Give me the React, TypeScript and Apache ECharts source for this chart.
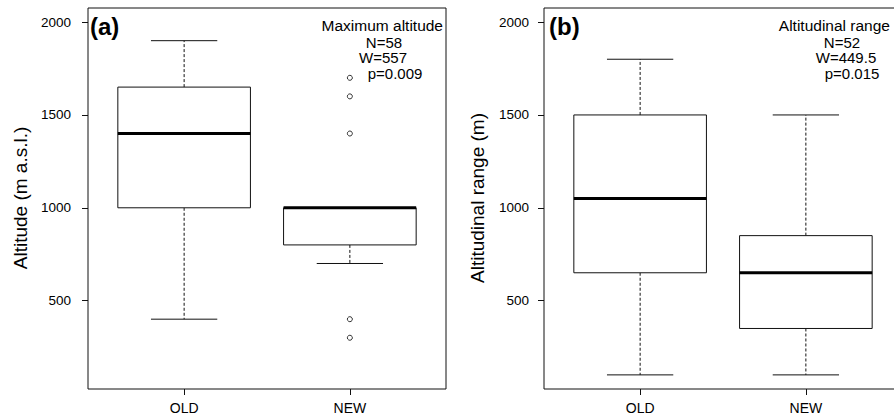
import React, { useEffect, useRef } from "react";
import * as echarts from "echarts";

const categories = ["OLD", "NEW"];
// [min, Q1, median, Q3, max]
const maxAltOld = [400, 1000, 1400, 1650, 1900];
const maxAltNew = [700, 800, 1000, 1000, 1000];
const maxAltNewOutliers = [1700, 1600, 1400, 400, 300];
const rangeOld = [100, 650, 1050, 1500, 1800];
const rangeNew = [100, 350, 650, 850, 1500];
const rangeNewOutliers: number[] = [];
const yTicks = [500, 1000, 1500, 2000];
const statsA = ["N=58", "W=557", "p=0.009"];
const statsB = ["N=52", "W=449.5", "p=0.015"];

const FONT = "'Liberation Sans', Arial, Helvetica, sans-serif";

function renderBox(params: any, api: any) {
  const x = api.value(0);
  const mn = api.value(1);
  const q1 = api.value(2);
  const md = api.value(3);
  const q3 = api.value(4);
  const mx = api.value(5);
  const tl = api.coord([x - 0.4, q3]);
  const br = api.coord([x + 0.4, q1]);
  const c = (v: number, dx = 0) => api.coord([x + dx, v]);
  const stroke = "#111";
  const dashed = { stroke, lineWidth: 1, lineDash: [3, 2], fill: null };
  const solid = { stroke, lineWidth: 1, fill: null };
  return {
    type: "group",
    children: [
      { type: "line", shape: { x1: c(q3)[0], y1: c(q3)[1], x2: c(mx)[0], y2: c(mx)[1] }, style: dashed },
      { type: "line", shape: { x1: c(q1)[0], y1: c(q1)[1], x2: c(mn)[0], y2: c(mn)[1] }, style: dashed },
      { type: "line", shape: { x1: c(mx, -0.2)[0], y1: c(mx)[1], x2: c(mx, 0.2)[0], y2: c(mx)[1] }, style: solid },
      { type: "line", shape: { x1: c(mn, -0.2)[0], y1: c(mn)[1], x2: c(mn, 0.2)[0], y2: c(mn)[1] }, style: solid },
      {
        type: "rect",
        shape: { x: tl[0], y: tl[1], width: br[0] - tl[0], height: br[1] - tl[1] },
        style: { fill: "#fff", stroke, lineWidth: 1 },
      },
      { type: "line", shape: { x1: c(md, -0.4)[0], y1: c(md)[1], x2: c(md, 0.4)[0], y2: c(md)[1] }, style: { stroke: "#000", lineWidth: 3 } },
    ],
  };
}

function xAxis(gridIndex: number) {
  return {
    type: "value",
    gridIndex,
    min: 0.42,
    max: 2.58,
    splitLine: { show: false },
    axisLine: { show: false },
    axisTick: { show: true, customValues: [1, 2], length: 6, lineStyle: { color: "#111", width: 1 } },
    axisLabel: {
      customValues: [1, 2],
      formatter: (v: number) => categories[Math.round(v) - 1],
      fontSize: 14,
      color: "#000",
      margin: 12,
      fontFamily: FONT,
    },
  };
}

function yAxis(gridIndex: number, margin: number) {
  return {
    type: "value",
    gridIndex,
    min: 24,
    max: 2076,
    splitLine: { show: false },
    axisLine: { show: false },
    axisTick: { show: true, customValues: yTicks, length: 6, lineStyle: { color: "#111", width: 1 } },
    axisLabel: {
      customValues: yTicks,
      formatter: (v: number) => String(v),
      fontSize: 13.5,
      color: "#000",
      margin,
      fontFamily: FONT,
    },
  };
}

function txt(text: string, x: number, y: number, align: string, size: number, bold = false, rotation = 0) {
  return {
    type: "text",
    x,
    y,
    rotation,
    style: {
      text,
      align,
      verticalAlign: "middle",
      fontSize: size,
      lineHeight: size,
      fontWeight: bold ? "bold" : "normal",
      fontFamily: FONT,
      fill: "#000",
    },
  };
}

export default function App() {
  const ref = useRef<HTMLDivElement>(null);
  useEffect(() => {
    if (!ref.current) return;
    const chart = echarts.init(ref.current, undefined, { renderer: "svg" });
    const gridBase = {
      top: 8,
      width: 358,
      height: 381,
      show: true,
      borderColor: "#111",
      borderWidth: 1,
      backgroundColor: "transparent",
      outerBoundsMode: "none",
      containLabel: false,
    };
    const option: any = {
      animation: false,
      backgroundColor: "#fff",
      textStyle: { fontFamily: FONT },
      grid: [
        { ...gridBase, left: 88 },
        { ...gridBase, left: 544 },
      ],
      xAxis: [xAxis(0), xAxis(1)],
      yAxis: [yAxis(0, 17), yAxis(1, 15)],
      series: [
        {
          type: "custom",
          xAxisIndex: 0,
          yAxisIndex: 0,
          renderItem: renderBox,
          encode: { x: 0, y: [1, 2, 3, 4, 5] },
          data: [
            [1, ...maxAltOld],
            [2, ...maxAltNew],
          ],
        },
        {
          type: "scatter",
          xAxisIndex: 0,
          yAxisIndex: 0,
          symbol: "circle",
          symbolSize: 5,
          itemStyle: { color: "#fff", borderColor: "#000", borderWidth: 1 },
          data: maxAltNewOutliers.map((v) => [2, v]),
        },
        {
          type: "custom",
          xAxisIndex: 1,
          yAxisIndex: 1,
          renderItem: renderBox,
          encode: { x: 0, y: [1, 2, 3, 4, 5] },
          data: [
            [1, ...rangeOld],
            [2, ...rangeNew],
          ],
        },
        {
          type: "scatter",
          xAxisIndex: 1,
          yAxisIndex: 1,
          symbol: "circle",
          symbolSize: 5,
          itemStyle: { color: "#fff", borderColor: "#000", borderWidth: 1 },
          data: rangeNewOutliers.map((v) => [2, v]),
        },
      ],
      graphic: [
        txt("(a)", 90, 26, "left", 24, true),
        txt("(b)", 549, 26, "left", 24, true),
        txt("Maximum altitude", 443, 25, "right", 15.5),
        txt(statsA[0], 384, 42, "center", 15),
        txt(statsA[1], 383, 57.5, "center", 15),
        txt(statsA[2], 395, 73, "center", 15),
        txt("Altitudinal range", 890, 25, "right", 15.5),
        txt(statsB[0], 842, 42, "center", 15),
        txt(statsB[1], 846, 57.5, "center", 15),
        txt(statsB[2], 852, 73, "center", 15),
        txt("Altitude (m a.s.l.)", 20, 198, "center", 19, false, Math.PI / 2),
        txt("Altitudinal range (m)", 477, 198, "center", 19, false, Math.PI / 2),
      ],
    };
    chart.setOption(option);
    return () => chart.dispose();
  }, []);
  return <div ref={ref} style={{ position: "fixed", left: 0, top: 0, width: 894, height: 418 }} />;
}
